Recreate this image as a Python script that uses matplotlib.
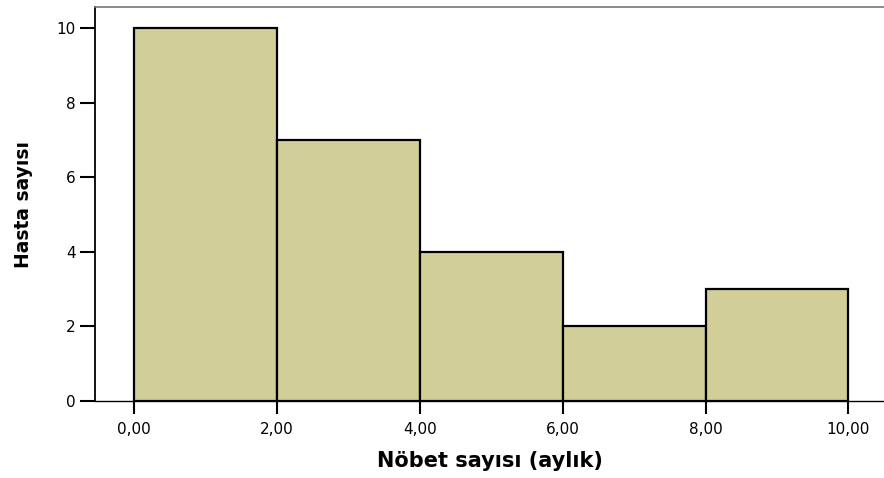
import matplotlib
matplotlib.use("Agg")
import matplotlib.pyplot as plt

plt.rcParams['font.family'] = ['DejaVu Sans']

bin_edges = [0, 2, 4, 6, 8, 10]
counts = [10, 7, 4, 2, 3]
x_ticks = [0, 2, 4, 6, 8, 10]
x_tick_labels = ["0,00", "2,00", "4,00", "6,00", "8,00", "10,00"]
y_ticks = [0, 2, 4, 6, 8, 10]

fig = plt.figure(figsize=(8.84, 4.78), dpi=100)
ax = fig.add_axes([0.1075, 0.161, 0.8925, 0.824])

widths = [b - a for a, b in zip(bin_edges[:-1], bin_edges[1:])]
ax.bar(bin_edges[:-1], counts, width=widths, align='edge',
       color='#D2CE98', edgecolor='black', linewidth=1.6, zorder=2)

ax.set_xlim(-0.55, 10.5)
ax.set_ylim(0, 10.56)
ax.set_xticks(x_ticks)
ax.set_xticklabels(x_tick_labels)
ax.set_yticks(y_ticks)

ax.spines['right'].set_visible(False)
ax.spines['top'].set_color('#777777')
ax.spines['top'].set_linewidth(1.2)
ax.spines['left'].set_linewidth(1.3)
ax.spines['bottom'].set_linewidth(1.0)

ax.tick_params(axis='x', direction='out', length=9, width=1.5,
               labelsize=11, pad=6)
ax.tick_params(axis='y', direction='out', length=11, width=1.5,
               labelsize=11, pad=3)

ax.set_xlabel("Nöbet sayısı (aylık)", fontsize=15, fontweight='bold', labelpad=10)
ax.set_ylabel("Hasta sayısı", fontsize=13.5, fontweight='bold', labelpad=17)

fig.savefig("out.png", dpi=100)
